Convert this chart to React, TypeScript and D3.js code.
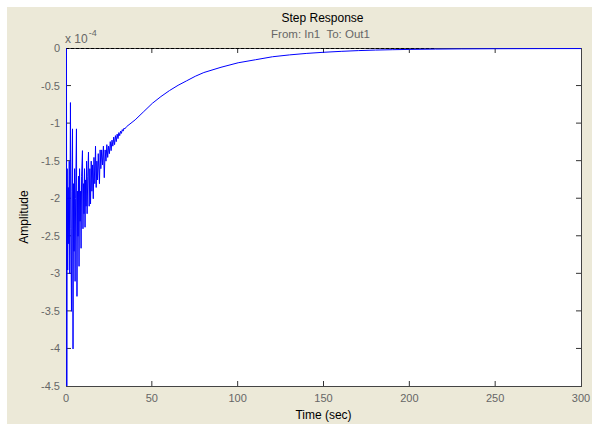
import React, { useEffect, useRef } from "react";
import * as d3 from "d3";

// step response samples (time in sec, amplitude in units of 1e-4)
const timeEarly = [
  0, 0.15, 0.4, 0.7, 1.0, 1.3, 1.6, 1.9, 2.3, 2.6,
  2.9, 3.2, 3.5, 3.8, 4.1, 4.4, 4.7, 5.0, 5.3, 5.8,
  6.1, 6.4, 6.7, 7.0, 7.3, 7.6, 7.9, 8.2, 8.5, 8.8,
  9.3, 9.6, 9.9, 10.2, 10.5, 10.8, 11.1, 11.4, 11.7, 12.0,
  12.4, 12.8, 13.2, 13.6, 14.0, 14.4, 14.8, 15.2, 15.6, 16.0,
  16.5, 16.9, 17.3, 17.7, 18.1, 18.5, 19.2, 19.6, 20.0, 20.5,
  21.0, 21.5, 22.0, 22.5, 23.0, 23.5, 24.0, 24.5, 25.0, 25.5,
  26.0, 26.5, 27.0, 27.5, 28.0, 28.5, 29.0, 29.5, 30.0, 30.5,
  31.0, 31.5, 32.0, 32.5, 33.0, 33.5, 34.0,
];
const ampEarly = [
  0, -6, -1.6, -2.95, -1.85, -2.6, -1.5, -3.0, -0.72, -2.4,
  -3.5, -1.9, -1.07, -4.0, -1.8, -2.7, -1.6, -3.1, -2.0, -1.07,
  -3.3, -1.9, -2.5, -1.7, -2.9, -1.6, -2.3, -1.9, -2.66, -1.7,
  -1.36, -2.4, -1.8, -2.2, -1.6, -2.38, -1.75, -2.1, -1.5, -2.2,
  -1.7, -1.38, -2.1, -1.6, -2.07, -1.5, -1.9, -1.55, -2.0, -1.45,
  -1.8, -1.3, -1.85, -1.5, -1.75, -1.4, -1.8, -1.35, -1.6, -1.35,
  -1.55, -1.3, -1.72, -1.35, -1.5, -1.28, -1.45, -1.3, -1.4, -1.24,
  -1.36, -1.22, -1.3, -1.18, -1.28, -1.16, -1.24, -1.14, -1.2, -1.12,
  -1.16, -1.1, -1.13, -1.08, -1.1, -1.06, -1.07,
];
const timeLate = [
  35, 40, 45, 50, 55, 60, 65, 70, 75, 80, 90, 100, 110, 120, 130, 140, 150, 160, 170, 180,
  190, 200, 215, 230, 250, 275, 300,
];
const ampLate = [
  -1.04, -0.95, -0.84, -0.73, -0.64, -0.56, -0.49, -0.43, -0.37, -0.32, -0.25, -0.19, -0.15,
  -0.11, -0.085, -0.065, -0.05, -0.038, -0.028, -0.021, -0.016, -0.012, -0.008, -0.005,
  -0.003, -0.0015, -0.001,
];
const finalTime = [0, 215];
const finalValue = [0, 0];
const xTicks = [0, 50, 100, 150, 200, 250, 300];
const yTicks = [0, -0.5, -1, -1.5, -2, -2.5, -3, -3.5, -4, -4.5];

const StepChart = () => {
  const ref = useRef<SVGSVGElement | null>(null);

  useEffect(() => {
    const width = 592;
    const height = 424;
    const margin = { top: 48, right: 11, bottom: 38, left: 66 };
    const w = width - margin.left - margin.right;
    const h = height - margin.top - margin.bottom;

    const svg = d3.select(ref.current);
    svg.selectAll("*").remove();
    svg.style("font-family", "Arial, 'Liberation Sans', sans-serif");

    // window background
    svg.append("rect").attr("width", width).attr("height", height).attr("fill", "#fff");
    svg
      .append("rect")
      .attr("x", 7)
      .attr("y", 7)
      .attr("width", width - 7)
      .attr("height", height - 7)
      .attr("fill", "#ECE9D8");

    const g = svg.append("g").attr("transform", `translate(${margin.left},${margin.top})`);

    const x = d3.scaleLinear().domain([0, 300]).range([0, w]);
    const y = d3.scaleLinear().domain([-4.5, 0]).range([h, 0]);

    g.append("rect").attr("width", w).attr("height", h).attr("fill", "#fff");

    g.append("defs")
      .append("clipPath")
      .attr("id", "plot-clip")
      .append("rect")
      .attr("width", w)
      .attr("height", h + 1)
      .attr("y", -1);

    const tickColor = "#333";
    const labelColor = "#666";

    // ticks inside the box
    xTicks.slice(1, -1).forEach((t) => {
      g.append("line").attr("x1", x(t)).attr("x2", x(t)).attr("y1", h).attr("y2", h - 5).attr("stroke", tickColor);
      g.append("line").attr("x1", x(t)).attr("x2", x(t)).attr("y1", 0).attr("y2", 5).attr("stroke", tickColor);
    });
    yTicks.slice(1, -1).forEach((t) => {
      g.append("line").attr("x1", 0).attr("x2", 5).attr("y1", y(t)).attr("y2", y(t)).attr("stroke", tickColor);
      g.append("line").attr("x1", w).attr("x2", w - 5).attr("y1", y(t)).attr("y2", y(t)).attr("stroke", tickColor);
    });

    g.append("rect")
      .attr("x", 0.5)
      .attr("y", 0.5)
      .attr("width", w)
      .attr("height", h)
      .attr("fill", "none")
      .attr("stroke", "#444");

    // tick labels
    g.selectAll(".xt")
      .data(xTicks)
      .enter()
      .append("text")
      .attr("x", (d) => x(d))
      .attr("y", h + 16)
      .attr("text-anchor", "middle")
      .attr("fill", labelColor)
      .style("font-size", "11px")
      .text((d) => d);

    g.selectAll(".yt")
      .data(yTicks)
      .enter()
      .append("text")
      .attr("x", -6)
      .attr("y", (d) => y(d) + 4)
      .attr("text-anchor", "end")
      .attr("fill", labelColor)
      .style("font-size", "11px")
      .text((d) => d);

    // steady state dashed line
    const finalData = finalTime.map((t, i) => [t, finalValue[i]] as [number, number]);
    g.append("path")
      .datum(finalData)
      .attr("fill", "none")
      .attr("stroke", "#000")
      .attr("stroke-dasharray", "3,2")
      .attr("d", d3.line().x((d) => x(d[0])).y((d) => y(d[1]) + 0.5));

    // response
    const resp = [
      ...timeEarly.map((t, i) => [t, ampEarly[i]] as [number, number]),
      ...timeLate.map((t, i) => [t, ampLate[i]] as [number, number]),
    ];
    g.append("path")
      .datum(resp)
      .attr("clip-path", "url(#plot-clip)")
      .attr("fill", "none")
      .attr("stroke", "#0000ff")
      .attr("stroke-width", 1)
      .attr("d", d3.line().x((d) => x(d[0]) + 0.5).y((d) => y(d[1]) + 0.5));

    // exponent label
    const ex = g.append("text").attr("x", -1).attr("y", -5).attr("fill", labelColor).style("font-size", "12px");
    ex.append("tspan").text("x 10");
    ex.append("tspan").attr("dx", 1).attr("dy", -7).style("font-size", "9px").text("-4");

    // titles
    svg
      .append("text")
      .attr("x", margin.left + w / 2 - 1)
      .attr("y", 22)
      .attr("text-anchor", "middle")
      .attr("fill", "#000")
      .style("font-size", "12px")
      .text("Step Response");
    svg
      .append("text")
      .attr("x", margin.left + w / 2 - 3)
      .attr("y", 38)
      .attr("text-anchor", "middle")
      .attr("fill", labelColor)
      .style("font-size", "11.5px")
      .attr("xml:space", "preserve")
      .text("From: In1  To: Out1");

    svg
      .append("text")
      .attr("x", margin.left + w / 2)
      .attr("y", 419)
      .attr("text-anchor", "middle")
      .attr("fill", "#000")
      .style("font-size", "12px")
      .text("Time (sec)");

    svg
      .append("text")
      .attr("transform", `translate(28,${margin.top + h / 2}) rotate(-90)`)
      .attr("text-anchor", "middle")
      .attr("fill", "#000")
      .style("font-size", "12px")
      .text("Amplitude");
  }, []);

  return <svg ref={ref} width={592} height={424} style={{ display: "block" }} />;
};

export default function App() {
  return (
    <div style={{ position: "fixed", left: 0, top: 0, width: 592, height: 424, overflow: "hidden" }}>
      <StepChart />
    </div>
  );
}
